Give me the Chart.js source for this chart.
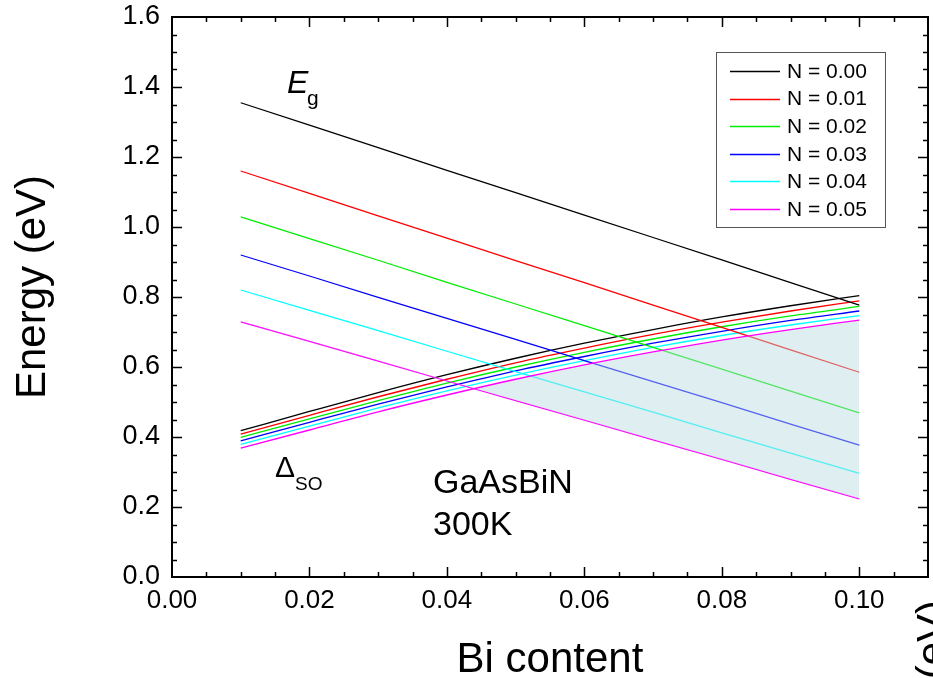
<!DOCTYPE html>
<html>
<head>
<meta charset="utf-8">
<script src="https://cdn.jsdelivr.net/npm/chart.js@4.4.1/dist/chart.umd.min.js"></script>
<style>
  html, body { margin: 0; padding: 0; background: #fff; overflow: hidden; }
  canvas { display: block; }
</style>
</head>
<body>
<canvas id="c" width="933" height="678"></canvas>
<script>
const FONT = '"Liberation Sans", Arial, Helvetica, sans-serif';

// Bi content (x) at which the energies are tabulated
const biContent = [0.01, 0.02, 0.03, 0.04, 0.05, 0.06, 0.07, 0.08, 0.09, 0.10];

// Band gap Eg (eV) for each N content
const egN000 = [1.355, 1.291, 1.227, 1.162, 1.098, 1.034, 0.970, 0.906, 0.841, 0.777];
const egN001 = [1.160, 1.096, 1.032, 0.968, 0.904, 0.841, 0.777, 0.713, 0.649, 0.585];
const egN002 = [1.029, 0.967, 0.905, 0.842, 0.780, 0.718, 0.656, 0.594, 0.531, 0.469];
const egN003 = [0.920, 0.860, 0.799, 0.739, 0.679, 0.618, 0.558, 0.498, 0.437, 0.377];
const egN004 = [0.820, 0.762, 0.704, 0.645, 0.587, 0.529, 0.471, 0.412, 0.354, 0.296];
const egN005 = [0.729, 0.673, 0.617, 0.560, 0.504, 0.448, 0.392, 0.336, 0.279, 0.223];

// Spin-orbit splitting energy (eV) for each N content
const soN000 = [0.418, 0.473, 0.527, 0.578, 0.625, 0.668, 0.707, 0.743, 0.775, 0.804];
const soN001 = [0.408, 0.462, 0.515, 0.565, 0.612, 0.654, 0.693, 0.728, 0.760, 0.789];
const soN002 = [0.399, 0.452, 0.504, 0.554, 0.600, 0.642, 0.680, 0.715, 0.746, 0.773];
const soN003 = [0.389, 0.442, 0.494, 0.543, 0.589, 0.630, 0.668, 0.702, 0.733, 0.760];
const soN004 = [0.379, 0.431, 0.483, 0.532, 0.577, 0.618, 0.656, 0.690, 0.720, 0.747];
const soN005 = [0.368, 0.420, 0.472, 0.520, 0.565, 0.606, 0.643, 0.677, 0.707, 0.734];

const nLabels = ['N = 0.00', 'N = 0.01', 'N = 0.02', 'N = 0.03', 'N = 0.04', 'N = 0.05'];

// Axis tick labels
const xTickValues = [0.00, 0.02, 0.04, 0.06, 0.08, 0.10];
const yTickValues = [0.0, 0.2, 0.4, 0.6, 0.8, 1.0, 1.2, 1.4, 1.6];

const seriesColors = ['#000000', '#ff0000', '#00ee00', '#0000ff', '#00ffff', '#ff00ff'];
const shadeColor = 'rgba(185, 217, 221, 0.45)';

const egSeries = [egN000, egN001, egN002, egN003, egN004, egN005];
const soSeries = [soN000, soN001, soN002, soN003, soN004, soN005];
const toPoints = vals => vals.map((v, i) => ({ x: biContent[i], y: v }));

const datasets = [];
egSeries.forEach((vals, i) => datasets.push({
  label: nLabels[i],
  data: toPoints(vals),
  borderColor: seriesColors[i],
  borderWidth: 1.3,
  pointRadius: 0,
  fill: false,
  order: 1
}));
soSeries.forEach((vals, i) => datasets.push({
  label: 'so ' + nLabels[i],
  data: toPoints(vals),
  borderColor: seriesColors[i],
  borderWidth: 1.3,
  pointRadius: 0,
  cubicInterpolationMode: 'monotone',
  // region where the lowest spin-orbit splitting exceeds the lowest band gap
  fill: i === 5 ? { target: 5, above: shadeColor, below: 'rgba(0,0,0,0)' } : false,
  order: i === 5 ? 0 : 1
}));

// Frame with inward major/minor ticks on all four sides, plus text overlays
const frameAndText = {
  id: 'frameAndText',
  afterDraw(chart) {
    const { ctx, chartArea: a, scales: { x, y } } = chart;
    ctx.save();
    ctx.strokeStyle = '#000';
    ctx.lineWidth = 2;
    ctx.strokeRect(a.left, a.top, a.right - a.left, a.bottom - a.top);

    ctx.lineWidth = 1.5;
    ctx.beginPath();
    for (let i = 1; i < 22; i++) {
      const v = i * 0.005;
      const len = i % 4 === 0 ? 10 : 5;
      const px = Math.round(x.getPixelForValue(v)) + 0.5;
      ctx.moveTo(px, a.bottom); ctx.lineTo(px, a.bottom - len);
      ctx.moveTo(px, a.top); ctx.lineTo(px, a.top + len);
    }
    for (let i = 1; i < 32; i++) {
      const v = i * 0.05;
      const len = i % 4 === 0 ? 10 : 5;
      const py = Math.round(y.getPixelForValue(v)) + 0.5;
      ctx.moveTo(a.left, py); ctx.lineTo(a.left + len, py);
      ctx.moveTo(a.right, py); ctx.lineTo(a.right - len, py);
    }
    ctx.stroke();

    ctx.fillStyle = '#000';
    ctx.textAlign = 'left';
    ctx.textBaseline = 'alphabetic';

    // Eg label
    ctx.font = 'italic 32px ' + FONT;
    ctx.fillText('E', 287, 93);
    ctx.font = '21px ' + FONT;
    ctx.fillText('g', 307, 105);

    // Delta_SO label
    ctx.font = '30px ' + FONT;
    ctx.fillText('\u0394', 275, 477);
    ctx.font = '19px ' + FONT;
    ctx.fillText('SO', 295, 490);

    // material and temperature
    ctx.font = '34px ' + FONT;
    ctx.fillText('GaAsBiN', 433, 493);
    ctx.fillText('300K', 433, 535);

    // axis titles
    ctx.font = '42px ' + FONT;
    ctx.textAlign = 'center';
    ctx.fillText('Bi content', (a.left + a.right) / 2, 672);
    ctx.save();
    ctx.translate(45, 287);
    ctx.rotate(-Math.PI / 2);
    ctx.fillText('Energy (eV)', 0, 0);
    ctx.restore();
    // neighbouring panel's axis title, cut by the edge
    ctx.save();
    ctx.translate(946, 600);
    ctx.rotate(-Math.PI / 2);
    ctx.textAlign = 'right';
    ctx.fillText('Energy (eV)', 0, 0);
    ctx.restore();

    // legend
    const lx = 716, ly = 52, lw = 169, lh = 175;
    ctx.fillStyle = '#fff';
    ctx.fillRect(lx, ly, lw, lh);
    ctx.strokeStyle = '#555';
    ctx.lineWidth = 1;
    ctx.strokeRect(lx + 0.5, ly + 0.5, lw, lh);
    ctx.font = '21px ' + FONT;
    ctx.textAlign = 'left';
    ctx.textBaseline = 'middle';
    for (let i = 0; i < 6; i++) {
      const ds = chart.data.datasets[i];
      const ry = 71 + i * 27.6;
      ctx.strokeStyle = ds.borderColor;
      ctx.lineWidth = 1.3;
      ctx.beginPath();
      ctx.moveTo(730, Math.round(ry) + 0.5);
      ctx.lineTo(780, Math.round(ry) + 0.5);
      ctx.stroke();
      ctx.fillStyle = '#000';
      ctx.fillText(ds.label, 787, ry + 1);
    }
    ctx.restore();
  }
};

new Chart(document.getElementById('c'), {
  type: 'line',
  data: { datasets },
  options: {
    responsive: false,
    animation: false,
    devicePixelRatio: 1,
    layout: { padding: { top: 17, right: 5, left: 0, bottom: 0 } },
    plugins: {
      legend: { display: false },
      tooltip: { enabled: false },
      filler: { drawTime: 'beforeDatasetDraw' }
    },
    scales: {
      x: {
        type: 'linear',
        min: 0,
        max: 0.11,
        grid: { display: false, drawTicks: false },
        border: { display: false },
        afterBuildTicks: s => { s.ticks = xTickValues.map(v => ({ value: v })); },
        afterFit: s => { s.height = 101; s.paddingLeft = 0; s.paddingRight = 0; },
        ticks: {
          padding: 8,
          color: '#000',
          font: { family: FONT, size: 26 },
          maxRotation: 0,
          callback: v => Number(v).toFixed(2)
        }
      },
      y: {
        type: 'linear',
        min: 0,
        max: 1.6,
        grid: { display: false, drawTicks: false },
        border: { display: false },
        afterBuildTicks: s => { s.ticks = yTickValues.map(v => ({ value: v })); },
        afterFit: s => { s.width = 172; s.paddingTop = 0; s.paddingBottom = 0; },
        ticks: {
          padding: 12,
          color: '#000',
          font: { family: FONT, size: 27 },
          callback: v => Number(v).toFixed(1)
        }
      }
    }
  },
  plugins: [frameAndText]
});
</script>
</body>
</html>
